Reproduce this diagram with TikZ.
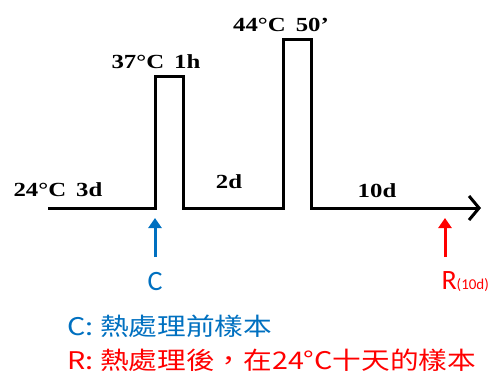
\documentclass[tikz,border=0pt]{standalone}
\usepackage{fontspec}
\setmainfont{Liberation Serif}
\newfontfamily\tempfont[FakeStretch=1.24]{Liberation Serif}
\newfontfamily\samplefont{Carlito}
\newfontfamily\cjk[FakeStretch=1.18]{Noto Sans CJK TC}
\usetikzlibrary{arrows.meta}
\definecolor{cblue}{RGB}{0,112,192}
\definecolor{rred}{RGB}{255,0,0}

\begin{document}
\begin{tikzpicture}[x=1pt,y=-1pt,line width=3pt,
    temp label/.style={font=\tempfont\bfseries\fontsize{20}{22}\selectfont,inner sep=0pt},
    sample arrow/.style={-{Triangle[length=10pt,width=13pt]},line width=3pt},
    sample label/.style={font=\samplefont\fontsize{28}{30}\selectfont,inner sep=0pt},
    legend label/.style={font=\cjk\fontsize{24.3}{28}\selectfont,inner sep=0pt,anchor=west}]

                \useasboundingbox (0,0) rectangle (493,376);

                % temperature course
                \coordinate (start) at (48,208);
                \coordinate (p1a) at (155,208);
                \coordinate (p1b) at (155,76);
                \coordinate (p1c) at (183,76);
                \coordinate (p1d) at (183,208);
                \coordinate (p2a) at (283,208);
                \coordinate (p2b) at (283,39);
                \coordinate (p2c) at (311,39);
                \coordinate (p2d) at (311,208);
                \coordinate (end) at (481,208);

                \draw[-{Straight Barb[length=10pt,width=24pt,line width=3pt]},line join=miter]
                    (start) -- (p1a) -- (p1b) -- (p1c) -- (p1d) -- (p2a)
                    -- (p2b) -- (p2c) -- (p2d) -- (end);

                \node[temp label] (t24) at (58,190) {24°C\hspace{0.5em}3d};
                \node[temp label] (t37) at (156,62) {37°C\hspace{0.5em}1h};
                \node[temp label] (t44) at (281,25) {44°C\hspace{0.5em}50’};
                \node[temp label] (d2) at (229,182) {2d};
                \node[temp label] (d10) at (377,191) {10d};

                % samples
                \coordinate (cfoot) at (155,257);
                \coordinate (ctip) at (155,218);
                \coordinate (rfoot) at (445,257);
                \coordinate (rtip) at (445,218);

                \draw[sample arrow,cblue] (cfoot) -- (ctip);
                \draw[sample arrow,rred] (rfoot) -- (rtip);

                \node[sample label,text=cblue] (c) at (155,282) {C};
                \node[sample label,text=rred,anchor=west] (r) at (440,282) {R{\fontsize{15}{17}\selectfont(10d)}};

                % legend
                \node[legend label,text=cblue] (cleg) at (66,326) {C: 熱處理前樣本};
                \node[legend label,text=rred] (rleg) at (66,360) {R: 熱處理後，在24°C十天的樣本};

                ;
            \end{tikzpicture}
\end{document}
